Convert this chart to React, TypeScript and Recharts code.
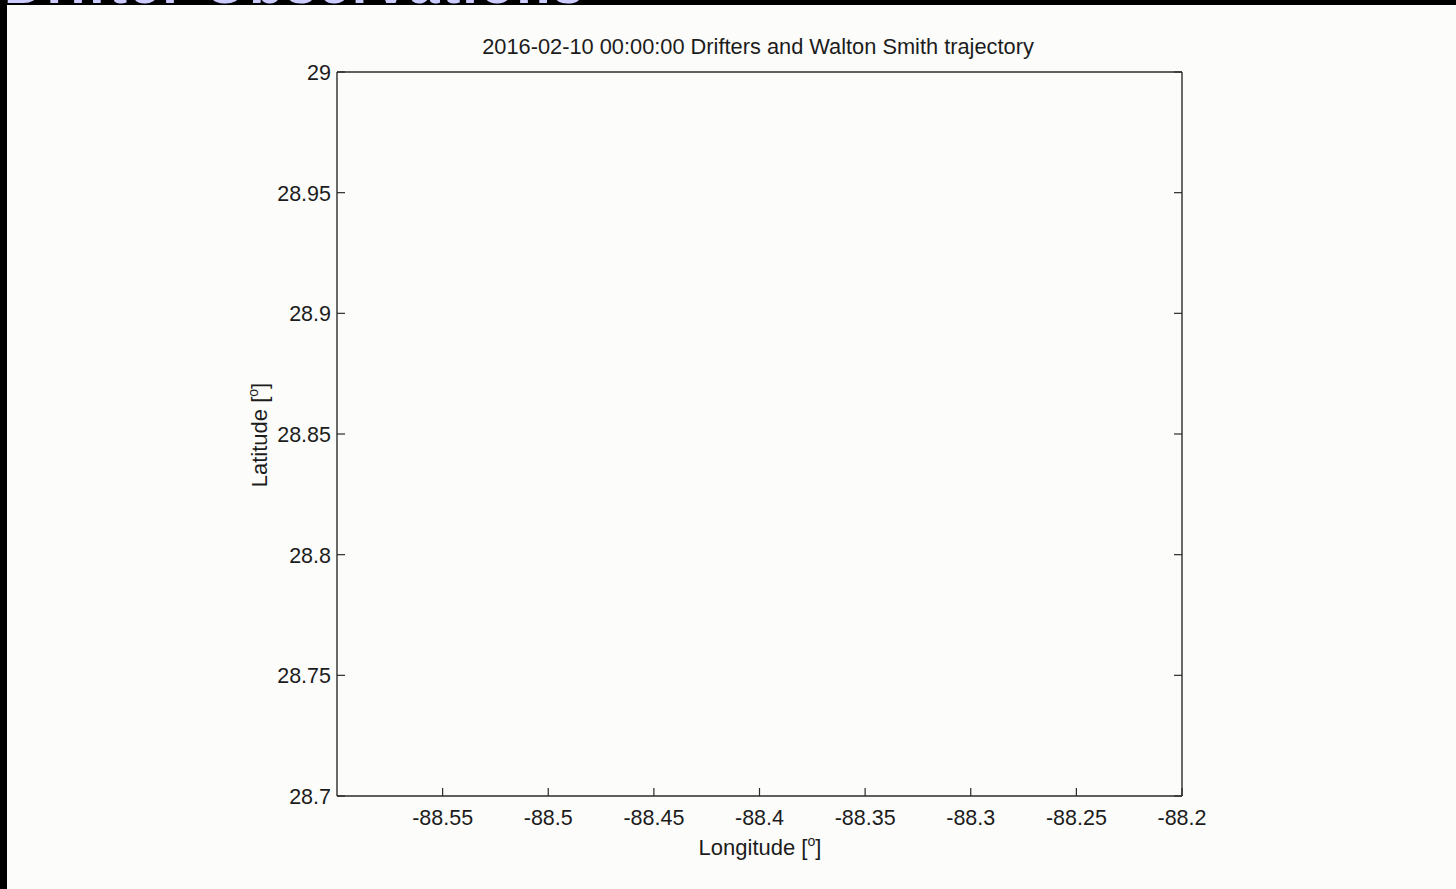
import React from "react";
import { ScatterChart, Scatter, XAxis, YAxis } from "recharts";

// Axis ticks (degrees)
const lonTicks = [-88.55, -88.5, -88.45, -88.4, -88.35, -88.3, -88.25, -88.2];
const latTicks = [28.7, 28.75, 28.8, 28.85, 28.9, 28.95, 29];
const lonDomain = [-88.6, -88.2];
const latDomain = [28.7, 29];

// Drifter fixes and ship track at this time step (none inside the window yet)
const drifterPositions: { lon: number; lat: number }[] = [];
const shipTrack: { lon: number; lat: number }[] = [];

const W = 1456;
const H = 889;
const INK = "#1c1c1c";
const LINE = "#2a2a2a";
const FONT = "'Liberation Sans', Arial, Helvetica, sans-serif";
const TICK_LEN = 8;
const TICK_FONT = 21.5;

const BottomTick = (props: any) => {
  const { x, y, payload } = props;
  return (
    <g>
      <line x1={x} x2={x} y1={y} y2={y - TICK_LEN} stroke={LINE} strokeWidth={1.2} />
      <text x={x} y={y + 29} textAnchor="middle" fontSize={TICK_FONT} fontFamily={FONT} fill={INK}>
        {String(payload.value)}
      </text>
    </g>
  );
};

const TopTick = (props: any) => {
  const { x, y } = props;
  return <line x1={x} x2={x} y1={y} y2={y + TICK_LEN} stroke={LINE} strokeWidth={1.2} />;
};

const LeftTick = (props: any) => {
  const { x, y, payload } = props;
  return (
    <g>
      <line x1={x} x2={x + TICK_LEN} y1={y} y2={y} stroke={LINE} strokeWidth={1.2} />
      <text x={x - 6} y={y + 8} textAnchor="end" fontSize={TICK_FONT} fontFamily={FONT} fill={INK}>
        {String(payload.value)}
      </text>
    </g>
  );
};

const RightTick = (props: any) => {
  const { x, y } = props;
  return <line x1={x} x2={x - TICK_LEN} y1={y} y2={y} stroke={LINE} strokeWidth={1.2} />;
};

export default function App() {
  return (
    <div
      style={{
        position: "fixed",
        left: 0,
        top: 0,
        width: W,
        height: H,
        background: "#fcfdfb",
        overflow: "hidden",
      }}
    >
      {/* slide header strip */}
      <div
        style={{
          position: "absolute",
          left: 0,
          top: 0,
          width: W,
          height: 5,
          background: "#000",
          overflow: "hidden",
        }}
      >
        <div
          style={{
            position: "absolute",
            left: 4,
            top: -44,
            fontFamily: FONT,
            fontWeight: 700,
            fontSize: 56,
            lineHeight: "56px",
            color: "#ccccff",
            whiteSpace: "nowrap",
            letterSpacing: 2,
          }}
        >
          Drifter Observations
        </div>
      </div>
      <div style={{ position: "absolute", left: 0, top: 0, width: 7, height: H, background: "#000" }} />

      <div style={{ position: "absolute", left: 0, top: 0 }}>
        <ScatterChart
          width={W}
          height={H}
          margin={{ top: 62, right: 264, bottom: 63, left: 277 }}
        >
          <XAxis
            xAxisId="bottom"
            type="number"
            dataKey="lon"
            orientation="bottom"
            domain={lonDomain}
            ticks={lonTicks}
            allowDataOverflow
            height={30}
            tickSize={0}
            tickMargin={0}
            tickLine={false}
            axisLine={{ stroke: LINE, strokeWidth: 1.4 }}
            tick={<BottomTick />}
            interval={0}
          />
          <XAxis
            xAxisId="top"
            type="number"
            orientation="top"
            domain={lonDomain}
            ticks={lonTicks}
            allowDataOverflow
            height={10}
            tickSize={0}
            tickMargin={0}
            tickLine={false}
            axisLine={{ stroke: LINE, strokeWidth: 1.4 }}
            tick={<TopTick />}
            interval={0}
          />
          <YAxis
            yAxisId="left"
            type="number"
            dataKey="lat"
            orientation="left"
            domain={latDomain}
            ticks={latTicks}
            allowDataOverflow
            width={60}
            tickSize={0}
            tickMargin={0}
            tickLine={false}
            axisLine={{ stroke: LINE, strokeWidth: 1.4 }}
            tick={<LeftTick />}
            interval={0}
          />
          <YAxis
            yAxisId="right"
            type="number"
            orientation="right"
            domain={latDomain}
            ticks={latTicks}
            allowDataOverflow
            width={10}
            tickSize={0}
            tickMargin={0}
            tickLine={false}
            axisLine={{ stroke: LINE, strokeWidth: 1.4 }}
            tick={<RightTick />}
            interval={0}
          />
          <Scatter
            name="Drifters"
            data={drifterPositions}
            xAxisId="bottom"
            yAxisId="left"
            fill="#1f4fd8"
            isAnimationActive={false}
          />
          <Scatter
            name="Walton Smith"
            data={shipTrack}
            xAxisId="bottom"
            yAxisId="left"
            fill="#d62728"
            line
            isAnimationActive={false}
          />
        </ScatterChart>
      </div>

      {/* title and axis labels */}
      <svg
        width={W}
        height={H}
        style={{ position: "absolute", left: 0, top: 0, pointerEvents: "none" }}
      >
        <text x={758} y={54} textAnchor="middle" fontSize={21.8} fontFamily={FONT} fill={INK}>
          2016-02-10 00:00:00 Drifters and Walton Smith trajectory
        </text>
        <text x={760} y={855} textAnchor="middle" fontSize={22} fontFamily={FONT} fill={INK}>
          Longitude [
          <tspan fontSize={14} dy={-9}>o</tspan>
          <tspan dy={9}>]</tspan>
        </text>
        <text
          x={0}
          y={0}
          transform="translate(267,435) rotate(-90)"
          textAnchor="middle"
          fontSize={22}
          fontFamily={FONT}
          fill={INK}
        >
          Latitude [
          <tspan fontSize={14} dy={-9}>o</tspan>
          <tspan dy={9}>]</tspan>
        </text>
      </svg>
    </div>
  );
}
